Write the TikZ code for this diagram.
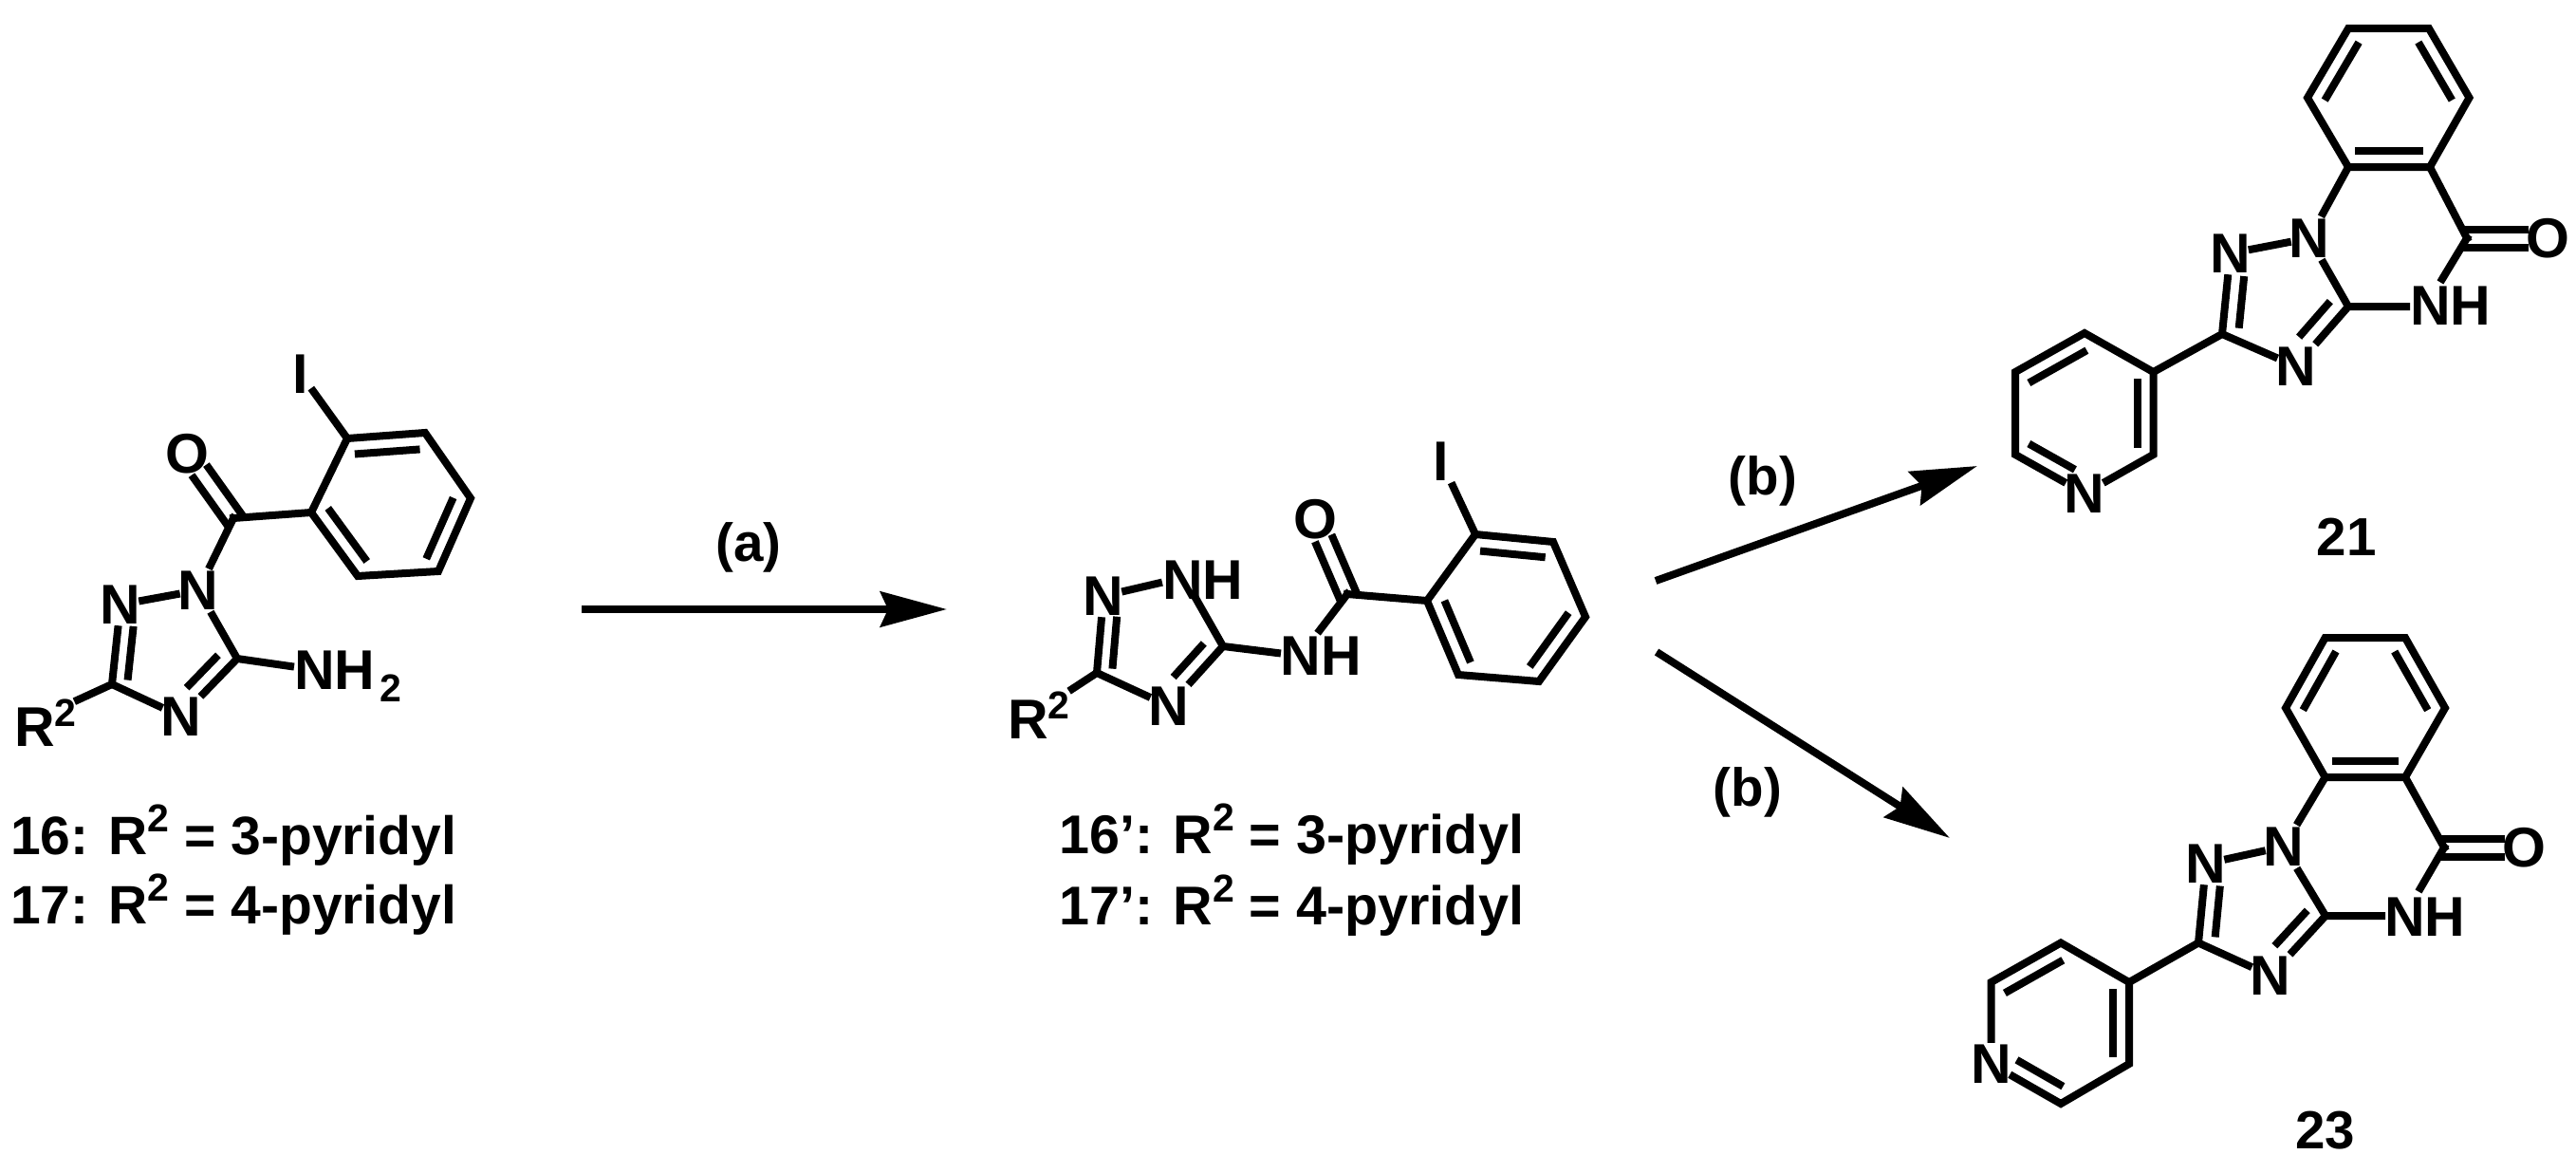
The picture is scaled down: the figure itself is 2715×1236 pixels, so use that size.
\documentclass[tikz,border=0pt]{standalone}
\usepackage{fontspec}
\setmainfont{Liberation Sans}
\usetikzlibrary{calc,arrows.meta}
\newcommand\bigf{\bfseries\fontsize{59}{62}\selectfont}
\newcommand\linef{\bfseries\fontsize{57}{60}\selectfont}
\newcommand\linem{\bfseries\fontsize{57.5}{60}\selectfont}
\newcommand\midf{\bfseries\fontsize{56.5}{60}\selectfont}
\newcommand\smf{\bfseries\fontsize{41}{44}\selectfont}
\newcommand\upd[2]{\raisebox{#1pt}{\smf #2}}
\newcommand\dnd[2]{\raisebox{-#1pt}{\smf #2}}
\newcommand\inb[5]{\draw[bond] ($(#1)!#3!(#2)!#5pt!90:(#2)$) -- ($(#1)!#4!(#2)!#5pt!90:(#2)$);}
\newcommand\dbo[4]{\draw[bond] ($(#1)!#4pt!90:(#2)$) -- ($(#1)!#3!(#2)!#4pt!90:(#2)$);
  \draw[bond] ($(#1)!#4pt!-90:(#2)$) -- ($(#1)!#3!(#2)!#4pt!-90:(#2)$);}
\tikzset{
  bond/.style={line width=8pt,line cap=rect,line join=miter,black},
  ringbond/.style={line width=8pt,line cap=butt,line join=miter,black},
  atom/.style={font=\bigf,inner sep=0pt,minimum width=46pt,minimum height=52pt,rectangle,anchor=center},
  iod/.style={atom,minimum width=26pt},
  lab/.style={font=\bigf,inner sep=0pt,anchor=base west},
  txl/.style={font=\linef,inner sep=0pt,anchor=base west},
  txm/.style={font=\linem,inner sep=0pt,anchor=base west},
  mid/.style={font=\midf,inner sep=0pt,anchor=base},
  rxn/.style={line width=8pt,-{Stealth[length=70pt,width=37pt,inset=8pt]},black}
}
\begin{document}
\begin{tikzpicture}[x=1pt,y=-1pt]
\useasboundingbox (0,0) rectangle (2715,1236);
% ---------- compound 16/17
\coordinate (a3) at (118,721);
\coordinate (a5) at (250,694);
\coordinate (aco) at (246,546);
\coordinate (ai) at (328,540);
\coordinate (ab) at (366,462);
\coordinate (ac) at (448,456);
\coordinate (ad) at (496,525);
\coordinate (ae) at (462,602);
\coordinate (af) at (377,607);
\coordinate (arend) at (82,737.5);
\coordinate (anend) at (306,702);
\node[atom] (an1) at (209,622) {N};
\node[atom] (an2) at (127,637) {N};
\node[atom] (an4) at (191,755) {N};
\node[atom] (ao) at (197.5,478) {O};
\node[iod] (aI) at (317,394) {I};
\node[lab] (ar) at (15,786) {R\upd{21}{2}};
\node[lab] (anh) at (310,726) {NH\hspace{5pt}\dnd{13}{2}};
\node[txl] (tx1) at (11,900) {16: R\upd{24}{2} = 3-pyridyl};
\node[txl] (tx2) at (11,973) {17: R\upd{24}{2} = 4-pyridyl};
\draw[bond] (a3)--(an2) (an2)--(an1) (an1)--(a5) (a5)--(an4) (an4)--(a3) (a3)--(arend) (a5)--(anend) (an1)--(aco) (aco)--(ai) (ab)--(aI);
\dbo{aco}{ao}{.70}{9.5}
\inb{a3}{an2}{.12}{.70}{-16}
\inb{a5}{an4}{.18}{.65}{-17}
\draw[ringbond] (ai)--(ab)--(ac)--(ad)--(ae)--(af)--cycle;
\inb{ab}{ac}{.13}{.87}{-17}
\inb{ad}{ae}{.13}{.87}{-17}
\inb{af}{ai}{.13}{.87}{-17}
% ---------- compound 16'/17'
\coordinate (b3) at (1156,709);
\coordinate (b5) at (1289,681);
\coordinate (bco) at (1420,626);
\coordinate (bi) at (1504,633);
\coordinate (bb) at (1555,563);
\coordinate (bc) at (1637,571);
\coordinate (bd) at (1671,650);
\coordinate (be) at (1622,718);
\coordinate (bf) at (1537,711);
\coordinate (brend) at (1130,726);
\coordinate (bnhl) at (1221,614.5);
\coordinate (bnhb) at (1260,630);
\coordinate (bamw) at (1346,688);
\coordinate (bamn) at (1391,664);
\node[atom] (bn2) at (1163,628) {N};
\node[atom] (bn4) at (1232,744) {N};
\node[atom] (bo) at (1386,547) {O};
\node[iod] (bI) at (1519,486) {I};
\node[lab] (bnh) at (1225,631) {NH};
\node[lab] (bam) at (1349.5,711) {NH};
\node[lab] (br) at (1062,778) {R\upd{21}{2}};
\node[txm] (tx3) at (1116,899) {16’: R\upd{24}{2} = 3-pyridyl};
\node[txm] (tx4) at (1116,974) {17’: R\upd{24}{2} = 4-pyridyl};
\draw[bond] (b3)--(bn2) (bn2)--(bnhl) (bnhb)--(b5) (b5)--(bn4) (bn4)--(b3) (b3)--(brend) (b5)--(bamw) (bamn)--(bco) (bco)--(bi) (bb)--(bI);
\dbo{bco}{bo}{.70}{9.5}
\inb{b3}{bn2}{.12}{.70}{-16}
\inb{b5}{bn4}{.18}{.65}{-17}
\draw[ringbond] (bi)--(bb)--(bc)--(bd)--(be)--(bf)--cycle;
\inb{bb}{bc}{.13}{.87}{-17}
\inb{bd}{be}{.13}{.87}{-17}
\inb{bf}{bi}{.13}{.87}{-17}
% ---------- compound 21
\coordinate (ca) at (2475,30);
\coordinate (cb) at (2560,30);
\coordinate (cc) at (2602.5,103);
\coordinate (cd) at (2561,176);
\coordinate (ce) at (2475,176);
\coordinate (cf) at (2432,103);
\coordinate (cco) at (2600,251);
\coordinate (cm) at (2475,323);
\coordinate (c3) at (2342,352);
\coordinate (cpi) at (2269.5,392);
\coordinate (cpt) at (2197,351);
\coordinate (cpl) at (2124,392);
\coordinate (cpb) at (2124,479);
\coordinate (cpr) at (2269.5,479);
\coordinate (cnhw) at (2536,323);
\coordinate (cnhn) at (2574,294);
\node[atom] (cn1) at (2434,251) {N};
\node[atom] (cn2) at (2350.5,267) {N};
\node[atom] (cn4) at (2420,386) {N};
\node[atom] (cpn) at (2197,520) {N};
\node[atom] (co) at (2685.5,251) {O};
\node[lab] (cnh) at (2540,342.5) {NH};
\node[mid] (cl) at (2473,585) {21};
\draw[ringbond] (ca)--(cb)--(cc)--(cd)--(ce)--(cf)--cycle;
\inb{cf}{ca}{.13}{.87}{-17}
\inb{cb}{cc}{.13}{.87}{-17}
\inb{cd}{ce}{.13}{.87}{-17}
\draw[bond] (ce)--(cn1) (cd)--(cco) (cco)--(cnhn) (cm)--(cnhw) (cn1)--(cm) (cm)--(cn4) (cn4)--(c3) (c3)--(cn2) (cn2)--(cn1) (c3)--(cpi);
\dbo{cco}{co}{.71}{9.5}
\inb{c3}{cn2}{.14}{.69}{-17}
\inb{cm}{cn4}{.15}{.65}{-18}
\draw[bond] (cpi)--(cpt)--(cpl)--(cpb)--(cpn) (cpn)--(cpr)--(cpi);
\inb{cpt}{cpl}{.13}{.87}{17}
\inb{cpb}{cpn}{.13}{.70}{17}
\inb{cpr}{cpi}{.13}{.87}{17}
% ---------- compound 23
\coordinate (da) at (2450.6,672);
\coordinate (db) at (2535,672);
\coordinate (dc) at (2577,746);
\coordinate (dd) at (2535,819);
\coordinate (de) at (2450.6,819);
\coordinate (df) at (2409,746);
\coordinate (dco) at (2576,893);
\coordinate (dm) at (2451,965);
\coordinate (d3) at (2317,993.5);
\coordinate (dpi) at (2244,1035);
\coordinate (dpt) at (2172,993.5);
\coordinate (dpl) at (2098.5,1035);
\coordinate (dpb) at (2172,1163);
\coordinate (dpr) at (2244,1121);
\coordinate (dnhw) at (2510,965);
\coordinate (dnhn) at (2551,936);
\node[atom] (dn1) at (2407,892) {N};
\node[atom] (dn2) at (2325,910) {N};
\node[atom] (dn4) at (2393,1028) {N};
\node[atom] (dpn) at (2098.5,1121) {N};
\node[atom] (do) at (2660,893) {O};
\node[lab] (dnh) at (2513,986) {NH};
\node[mid] (dl) at (2450.6,1210) {23};
\draw[ringbond] (da)--(db)--(dc)--(dd)--(de)--(df)--cycle;
\inb{df}{da}{.13}{.87}{-17}
\inb{db}{dc}{.13}{.87}{-17}
\inb{dd}{de}{.13}{.87}{-17}
\draw[bond] (de)--(dn1) (dd)--(dco) (dco)--(dnhn) (dm)--(dnhw) (dn1)--(dm) (dm)--(dn4) (dn4)--(d3) (d3)--(dn2) (dn2)--(dn1) (d3)--(dpi);
\dbo{dco}{do}{.71}{9.5}
\inb{d3}{dn2}{.14}{.69}{-17}
\inb{dm}{dn4}{.15}{.65}{-18}
\draw[bond] (dpi)--(dpt)--(dpl)--(dpn) (dpn)--(dpb)--(dpr)--(dpi);
\inb{dpt}{dpl}{.13}{.87}{17}
\inb{dpn}{dpb}{.30}{.87}{17}
\inb{dpr}{dpi}{.13}{.87}{17}
% ---------- reaction arrows
\coordinate (ra0) at (613,642);
\coordinate (ra1) at (998,642);
\coordinate (rb0) at (1745,612);
\coordinate (rb1) at (2084,491);
\coordinate (rc0) at (1746,687);
\coordinate (rc1) at (2055,883);
\draw[rxn] (ra0)--(ra1);
\draw[rxn] (rb0)--(rb1);
\draw[rxn] (rc0)--(rc1);
\node[mid] (la) at (789,591) {(a)};
\node[mid] (lb) at (1858,521) {(b)};
\node[mid] (lc) at (1842,849) {(b)};
\end{tikzpicture}
\end{document}
